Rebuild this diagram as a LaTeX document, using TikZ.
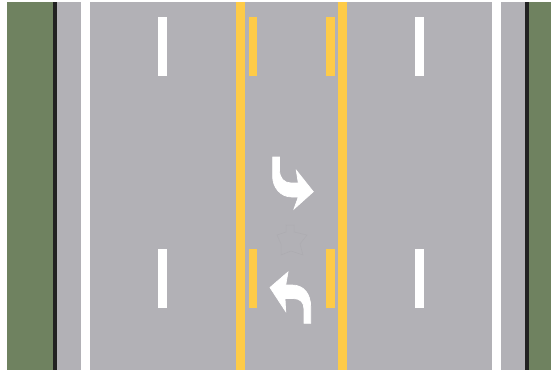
\documentclass[tikz,border=0pt]{standalone}
\definecolor{grass}{HTML}{6F8260}
\definecolor{asphalt}{HTML}{B2B1B6}
\definecolor{curb}{HTML}{222222}
\definecolor{paint}{HTML}{FECB47}
\definecolor{faint}{HTML}{A8A7AC}
\begin{document}
\begin{tikzpicture}[x=1pt,y=-1pt,
  whitepaint/.style={fill=white},
  yellowpaint/.style={fill=paint},
  turnarrow/.style={fill=white,draw=white,line width=0.7pt,line join=miter}]
\useasboundingbox (0,0) rectangle (551,370);
\fill[white] (0,0) rectangle (551,370);
\fill[asphalt] (53,2) rectangle (529,370);
\fill[grass] (7,2) rectangle (53,370);
\fill[grass] (529,2) rectangle (551,370);
\fill[curb] (53,2) rectangle (57,370);
\fill[curb] (525,2) rectangle (529,370);
\fill[whitepaint] (81,2) rectangle (89.5,370);
\fill[whitepaint] (492,2) rectangle (501,370);
\fill[yellowpaint] (236,2) rectangle (245,370);
\fill[yellowpaint] (338,2) rectangle (347,370);
\foreach \y in {17,249}{
  \fill[whitepaint] (158,\y) rectangle (167,\y+59);
  \fill[whitepaint] (415,\y) rectangle (424,\y+59);
  \fill[yellowpaint] (248.5,\y) rectangle (257,\y+59);
  \fill[yellowpaint] (326,\y) rectangle (334.5,\y+59);
}
% arrows
\path[turnarrow] (272.6,157) -- (279.5,157) -- (279.5,170)
  .. controls (279.5,178) and (284,183) .. (291,183)
  -- (298.3,183) -- (296.3,170.3) -- (313.3,191.7) -- (294,209) -- (298.3,197)
  -- (292,197)
  .. controls (280,197) and (272.6,187) .. (272.6,176) -- cycle;
\path[turnarrow] (304,323.3) -- (310.7,323.3) -- (310.7,307)
  .. controls (310.7,294) and (304,285) .. (292,285)
  -- (285.7,285) -- (288,272) -- (270,287.5) -- (285.7,311.5) -- (285,298.5)
  -- (293,298.5)
  .. controls (300,298.5) and (304,302) .. (304,309) -- cycle;
% faint mark
\draw[faint,line width=0.5pt,opacity=0.5] (286,225) -- (294,225) -- (294,232) -- (307,235)
  -- (300,244) -- (303,255) -- (291,251) -- (281,255) -- (281,244) -- (277,235) -- (286,232) -- cycle;
\end{tikzpicture}
\end{document}
